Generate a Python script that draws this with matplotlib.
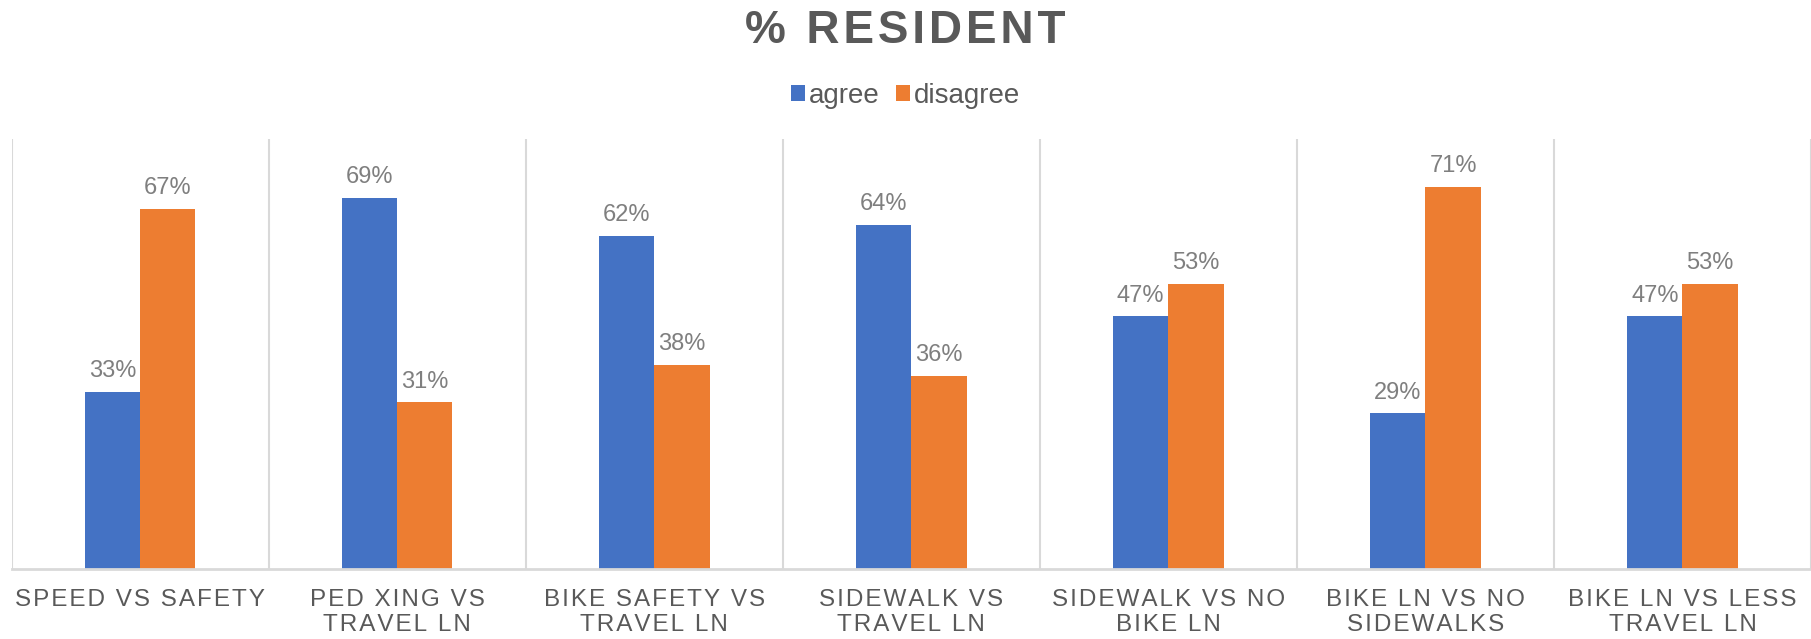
import numpy as np
import matplotlib.pyplot as plt

plt.rcParams['font.family'] = ['Liberation Sans', 'DejaVu Sans']

categories = ['SPEED VS SAFETY', 'PED XING VS\nTRAVEL LN', 'BIKE SAFETY VS\nTRAVEL LN',
              'SIDEWALK VS\nTRAVEL LN', 'SIDEWALK VS NO\nBIKE LN', 'BIKE LN VS NO\nSIDEWALKS',
              'BIKE LN VS LESS\nTRAVEL LN']
agree = [33, 69, 62, 64, 47, 29, 47]
disagree = [67, 31, 38, 36, 53, 71, 53]
series_names = ['agree', 'disagree']


def spaced(s, sep='\u200a'):
    # fake letter spacing
    return '\n'.join(sep.join(line) for line in s.split('\n'))


fig = plt.figure(figsize=(18.11, 6.39), dpi=100)
ax = fig.add_axes([0.0064, 0.109, 0.9936, 0.674])

x = np.arange(len(categories))
w = 0.215
b1 = ax.bar(x - w / 2, agree, w, color='#4472c4', label=series_names[0])
b2 = ax.bar(x + w / 2, disagree, w, color='#ed7d31', label=series_names[1])

for bars in (b1, b2):
    ax.bar_label(bars, labels=[f'{v:.0f}%' for v in bars.datavalues],
                 padding=7, fontsize=17, color='#7f7f7f')

ax.set_xlim(-0.5, len(categories) - 0.5)
ax.set_ylim(0, 80)
ax.set_yticks([])
ax.set_xticks(x)
ax.set_xticklabels([spaced(c) for c in categories], fontsize=17.5, color='#595959',
                   linespacing=1.2)
ax.tick_params(axis='x', length=0, pad=14)
ax.set_xticks(np.arange(-0.5, len(categories)), minor=True)
ax.tick_params(axis='x', which='minor', length=0)
ax.grid(which='minor', axis='x', color='#d9d9d9', linewidth=1.5)
ax.set_axisbelow(True)

for s in ['top', 'left', 'right']:
    ax.spines[s].set_visible(False)
ax.spines['bottom'].set_color('#d9d9d9')
ax.spines['bottom'].set_linewidth(2)

fig.text(0.5, 0.951, spaced('% RESIDENT'), ha='center', va='center',
         fontsize=33, fontweight='bold', color='#595959')

fig.legend(handles=[b1, b2], labels=series_names, loc='center', bbox_to_anchor=(0.5, 0.85),
           ncol=2, frameon=False, fontsize=20, labelcolor='#595959',
           handlelength=0.5, handleheight=0.5, handletextpad=0.15, columnspacing=0.6)

fig.savefig('out.png', dpi=100)
